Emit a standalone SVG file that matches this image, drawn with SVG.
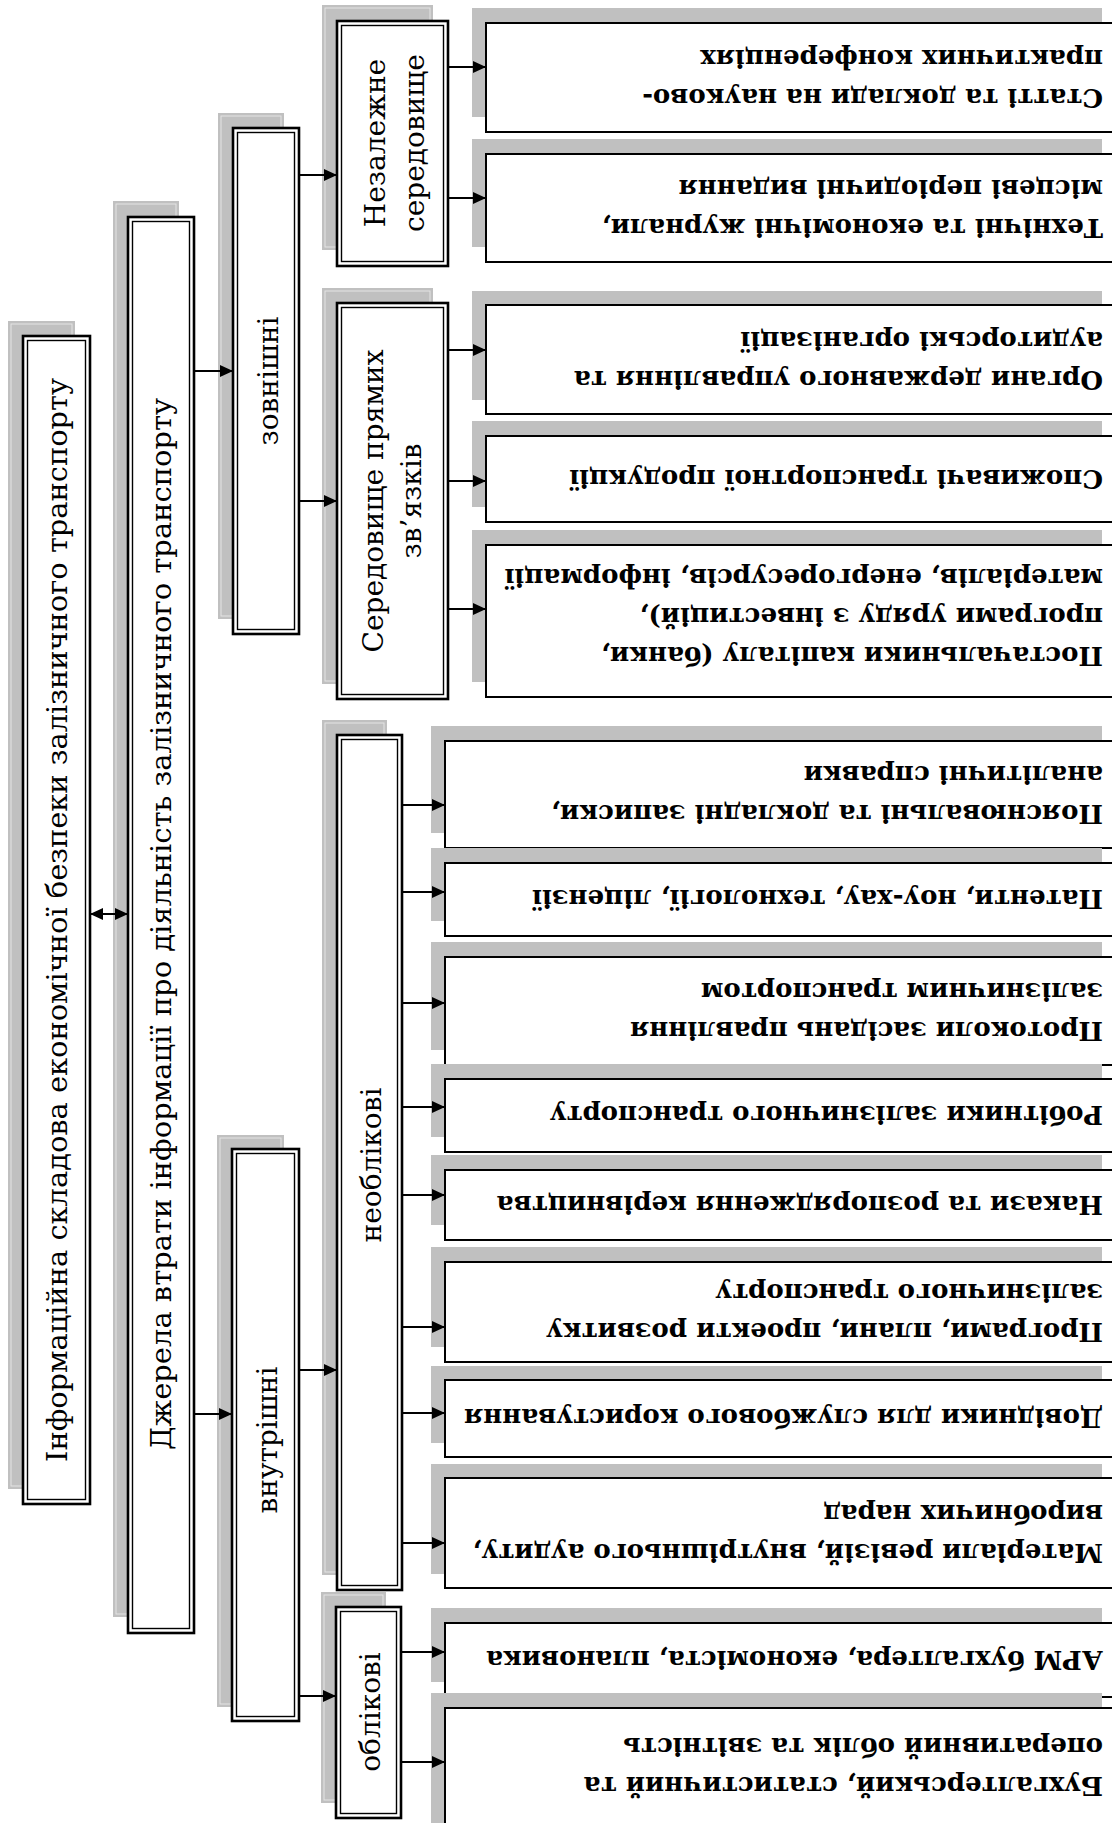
<svg xmlns="http://www.w3.org/2000/svg" width="1112" height="1823" viewBox="0 0 1112 1823">
<defs>
<marker id="ah" viewBox="0 0 13 12" refX="13" refY="6" markerWidth="13" markerHeight="12" markerUnits="userSpaceOnUse" orient="auto-start-reverse"><path d="M0,0 L13,6 L0,12 z" fill="#000"/></marker>
<style>
.sh{fill:#c0c0c0}
.shl{fill:none;stroke:#e4e4e4;stroke-width:1}
.ob{fill:#fff;stroke:#000;stroke-width:2.6}
.ib{fill:none;stroke:#000;stroke-width:1.4}
.rb{fill:#fff;stroke:#000;stroke-width:2}
.lt{font-family:"DejaVu Serif","Liberation Serif",serif;font-size:27px;fill:#000}
.mt{font-family:"DejaVu Serif","Liberation Serif",serif;font-size:28px;fill:#000}
.rt{font-family:"DejaVu Serif","Liberation Serif",serif;font-size:26px;font-weight:bold;fill:#000}
.cn{stroke:#000;stroke-width:2;fill:none;marker-end:url(#ah)}
</style>
</defs>
<rect width="1112" height="1823" fill="#fff"/>

<!-- Left column -->
<g id="n-info">
<rect class="sh" x="8" y="321" width="67" height="1168"/><rect class="shl" x="11" y="324" width="61" height="1162"/>
<rect class="ob" x="23" y="336" width="67" height="1168"/><rect class="ib" x="27.5" y="340.5" width="58" height="1159"/>
<text class="lt" x="57" y="920" transform="rotate(-90 57 920)" text-anchor="middle" dominant-baseline="central" textLength="1084" lengthAdjust="spacingAndGlyphs">Інформаційна складова економічної безпеки залізничного транспорту</text>
</g>
<g id="n-sources">
<rect class="sh" x="113" y="201" width="66" height="1416"/><rect class="shl" x="116" y="204" width="60" height="1410"/>
<rect class="ob" x="128" y="217" width="66" height="1416"/><rect class="ib" x="132.5" y="221.5" width="57" height="1407"/>
<text class="lt" x="161" y="924" transform="rotate(-90 161 924)" text-anchor="middle" dominant-baseline="central" textLength="1052" lengthAdjust="spacingAndGlyphs">Джерела втрати інформації про діяльність залізничного транспорту</text>
</g>
<g id="n-external">
<rect class="sh" x="218" y="113" width="66" height="506"/><rect class="shl" x="221" y="116" width="60" height="500"/>
<rect class="ob" x="233" y="128" width="66" height="506"/><rect class="ib" x="237.5" y="132.5" width="57" height="497"/>
<text class="mt" x="268" y="381" transform="rotate(-90 268 381)" text-anchor="middle" dominant-baseline="central">зовнішні</text>
</g>
<g id="n-internal">
<rect class="sh" x="217" y="1135" width="67" height="572"/><rect class="shl" x="220" y="1138" width="61" height="566"/>
<rect class="ob" x="232" y="1149" width="67" height="572"/><rect class="ib" x="236.5" y="1153.5" width="58" height="563"/>
<text class="mt" x="267" y="1440" transform="rotate(-90 267 1440)" text-anchor="middle" dominant-baseline="central">внутрішні</text>
</g>
<g id="n-independent">
<rect class="sh" x="322" y="5" width="111" height="245"/><rect class="shl" x="325" y="8" width="105" height="239"/>
<rect class="ob" x="337" y="21" width="111" height="245"/><rect class="ib" x="341.5" y="25.5" width="102" height="236"/>
<text class="mt" x="375" y="143" transform="rotate(-90 375 143)" text-anchor="middle" dominant-baseline="central">Незалежне</text>
<text class="mt" x="414" y="143" transform="rotate(-90 414 143)" text-anchor="middle" dominant-baseline="central">середовище</text>
</g>
<g id="n-direct">
<rect class="sh" x="322" y="288" width="111" height="396"/><rect class="shl" x="325" y="291" width="105" height="390"/>
<rect class="ob" x="337" y="303" width="111" height="396"/><rect class="ib" x="341.5" y="307.5" width="102" height="387"/>
<text class="mt" x="373" y="501" transform="rotate(-90 373 501)" text-anchor="middle" dominant-baseline="central">Середовище прямих</text>
<text class="mt" x="411" y="501" transform="rotate(-90 411 501)" text-anchor="middle" dominant-baseline="central">зв’язків</text>
</g>
<g id="n-nonaccounting">
<rect class="sh" x="322" y="720" width="65" height="855"/><rect class="shl" x="325" y="723" width="59" height="849"/>
<rect class="ob" x="337" y="735" width="65" height="855"/><rect class="ib" x="341.5" y="739.5" width="56" height="846"/>
<text class="mt" x="371" y="1165" transform="rotate(-90 371 1165)" text-anchor="middle" dominant-baseline="central">необлікові</text>
</g>
<g id="n-accounting">
<rect class="sh" x="321" y="1592" width="65" height="211"/><rect class="shl" x="324" y="1595" width="59" height="205"/>
<rect class="ob" x="336" y="1607" width="65" height="211"/><rect class="ib" x="340.5" y="1611.5" width="56" height="202"/>
<text class="mt" x="370" y="1712" transform="rotate(-90 370 1712)" text-anchor="middle" dominant-baseline="central">облікові</text>
</g>

<!-- Right boxes, upper group -->
<g id="r-articles">
<rect class="sh" x="472" y="8" width="630" height="109"/><rect class="rb" x="486" y="23" width="640" height="109"/>
<text class="rt" x="1103" y="98" transform="rotate(180 1103 98)" dominant-baseline="central">Статті та доклади на науково-</text>
<text class="rt" x="1103" y="59" transform="rotate(180 1103 59)" dominant-baseline="central">практичних конференціях</text>
</g>
<g id="r-journals">
<rect class="sh" x="472" y="139" width="630" height="108"/><rect class="rb" x="486" y="154" width="640" height="108"/>
<text class="rt" x="1103" y="228" transform="rotate(180 1103 228)" dominant-baseline="central">Технічні та економічні журнали,</text>
<text class="rt" x="1103" y="189" transform="rotate(180 1103 189)" dominant-baseline="central">місцеві періодичні видання</text>
</g>
<g id="r-organs">
<rect class="sh" x="472" y="291" width="630" height="109"/><rect class="rb" x="486" y="305" width="640" height="109"/>
<text class="rt" x="1103" y="380" transform="rotate(180 1103 380)" dominant-baseline="central">Органи державного управління та</text>
<text class="rt" x="1103" y="341" transform="rotate(180 1103 341)" dominant-baseline="central">аудиторські організації</text>
</g>
<g id="r-consumers">
<rect class="sh" x="472" y="421" width="630" height="86"/><rect class="rb" x="486" y="436" width="640" height="86"/>
<text class="rt" x="1103" y="479" transform="rotate(180 1103 479)" dominant-baseline="central">Споживачі транспортної продукції</text>
</g>
<g id="r-suppliers">
<rect class="sh" x="472" y="530" width="630" height="152"/><rect class="rb" x="486" y="545" width="640" height="152"/>
<text class="rt" x="1103" y="656" transform="rotate(180 1103 656)" dominant-baseline="central">Постачальники капіталу (банки,</text>
<text class="rt" x="1103" y="617" transform="rotate(180 1103 617)" dominant-baseline="central">програми уряду з інвестицій),</text>
<text class="rt" x="1103" y="578" transform="rotate(180 1103 578)" dominant-baseline="central">матеріалів, енергоресурсів, інформації</text>
</g>

<!-- Right boxes, lower group -->
<g id="r-notes">
<rect class="sh" x="431" y="726" width="671" height="107"/><rect class="rb" x="445" y="741" width="680" height="107"/>
<text class="rt" x="1103" y="814" transform="rotate(180 1103 814)" dominant-baseline="central">Пояснювальні та докладні записки,</text>
<text class="rt" x="1103" y="775" transform="rotate(180 1103 775)" dominant-baseline="central">аналітичні справки</text>
</g>
<g id="r-patents">
<rect class="sh" x="431" y="848" width="671" height="73"/><rect class="rb" x="445" y="863" width="680" height="73"/>
<text class="rt" x="1103" y="899" transform="rotate(180 1103 899)" dominant-baseline="central">Патенти, ноу-хау, технології, ліцензії</text>
</g>
<g id="r-protocols">
<rect class="sh" x="431" y="942" width="671" height="108"/><rect class="rb" x="445" y="957" width="680" height="108"/>
<text class="rt" x="1103" y="1031" transform="rotate(180 1103 1031)" dominant-baseline="central">Протоколи засідань правління</text>
<text class="rt" x="1103" y="992" transform="rotate(180 1103 992)" dominant-baseline="central">залізничним транспортом</text>
</g>
<g id="r-workers">
<rect class="sh" x="431" y="1064" width="671" height="73"/><rect class="rb" x="445" y="1079" width="680" height="73"/>
<text class="rt" x="1103" y="1115" transform="rotate(180 1103 1115)" dominant-baseline="central">Робітники залізничного транспорту</text>
</g>
<g id="r-orders">
<rect class="sh" x="431" y="1155" width="671" height="70"/><rect class="rb" x="445" y="1170" width="680" height="70"/>
<text class="rt" x="1103" y="1205" transform="rotate(180 1103 1205)" dominant-baseline="central">Накази та розпорядження керівництва</text>
</g>
<g id="r-programs">
<rect class="sh" x="431" y="1247" width="671" height="100"/><rect class="rb" x="445" y="1262" width="680" height="100"/>
<text class="rt" x="1103" y="1332" transform="rotate(180 1103 1332)" dominant-baseline="central">Програми, плани, проекти розвитку</text>
<text class="rt" x="1103" y="1293" transform="rotate(180 1103 1293)" dominant-baseline="central">залізничного транспорту</text>
</g>
<g id="r-handbooks">
<rect class="sh" x="431" y="1366" width="671" height="77"/><rect class="rb" x="445" y="1380" width="680" height="77"/>
<text class="rt" x="1103" y="1418" transform="rotate(180 1103 1418)" dominant-baseline="central">Довідники для службового користування</text>
</g>
<g id="r-audit">
<rect class="sh" x="431" y="1464" width="671" height="110"/><rect class="rb" x="445" y="1478" width="680" height="110"/>
<text class="rt" x="1103" y="1553" transform="rotate(180 1103 1553)" dominant-baseline="central">Матеріали ревізій, внутрішнього аудиту,</text>
<text class="rt" x="1103" y="1514" transform="rotate(180 1103 1514)" dominant-baseline="central">виробничих нарад</text>
</g>
<g id="r-arm">
<rect class="sh" x="431" y="1608" width="671" height="74"/><rect class="rb" x="445" y="1623" width="680" height="74"/>
<text class="rt" x="1103" y="1660" transform="rotate(180 1103 1660)" dominant-baseline="central">АРМ бухгалтера, економіста, плановика</text>
</g>
<g id="r-accounting">
<rect class="sh" x="431" y="1693" width="671" height="140"/><rect class="rb" x="445" y="1708" width="680" height="140"/>
<text class="rt" x="1103" y="1786" transform="rotate(180 1103 1786)" dominant-baseline="central">Бухгалтерський, статистичний та</text>
<text class="rt" x="1103" y="1747" transform="rotate(180 1103 1747)" dominant-baseline="central">оперативний облік та звітність</text>
</g>

<!-- Connectors -->
<g id="connectors">
<path class="cn" d="M90,914 H128" marker-start="url(#ah)"/>
<path class="cn" d="M194,371 H233"/>
<path class="cn" d="M194,1414 H232"/>
<path class="cn" d="M299,175 H337"/>
<path class="cn" d="M299,501 H337"/>
<path class="cn" d="M299,1370 H337"/>
<path class="cn" d="M299,1696 H336"/>
<path class="cn" d="M448,67 H486"/>
<path class="cn" d="M448,198 H486"/>
<path class="cn" d="M448,350 H486"/>
<path class="cn" d="M448,481 H486"/>
<path class="cn" d="M448,609 H486"/>
<path class="cn" d="M402,805 H445"/>
<path class="cn" d="M402,892 H445"/>
<path class="cn" d="M402,1003 H445"/>
<path class="cn" d="M402,1107 H445"/>
<path class="cn" d="M402,1195 H445"/>
<path class="cn" d="M402,1327 H445"/>
<path class="cn" d="M402,1413 H445"/>
<path class="cn" d="M402,1543 H445"/>
<path class="cn" d="M401,1652 H445"/>
<path class="cn" d="M401,1762 H445"/>
</g>
</svg>
